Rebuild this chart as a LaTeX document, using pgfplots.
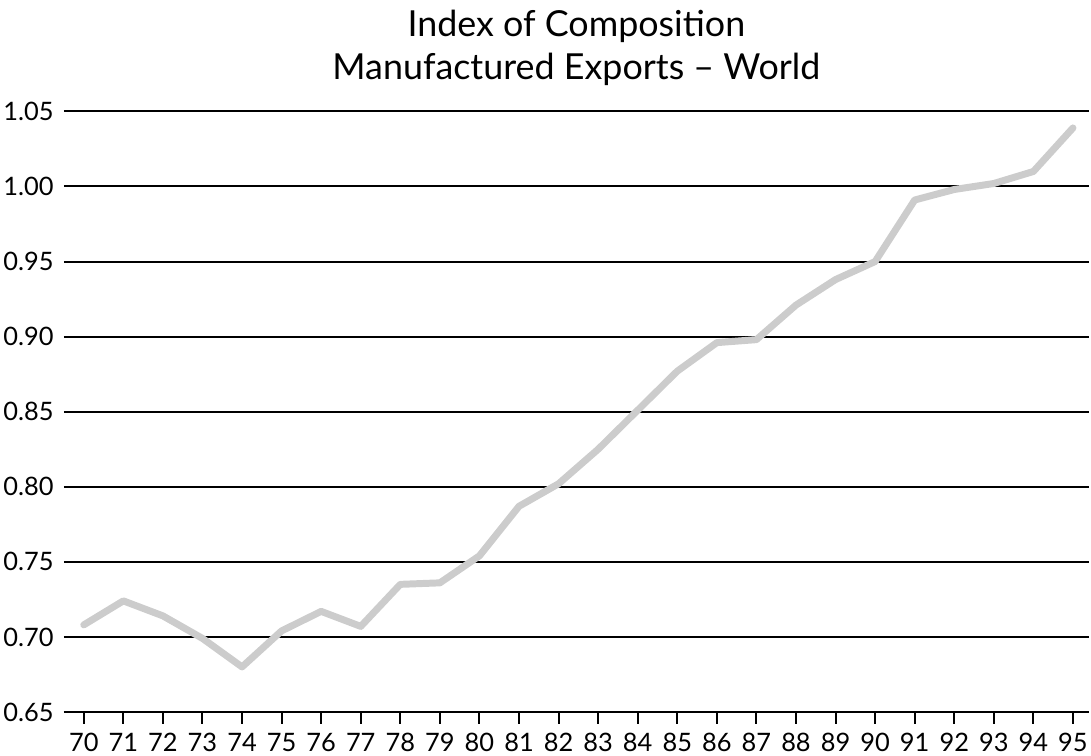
\documentclass[border=0pt]{standalone}
\usepackage{fontspec}
\setmainfont{Lato}
\usepackage{pgfplots}
\pgfplotsset{compat=1.18}
\begin{document}
\begin{tikzpicture}
\begin{axis}[
  scale only axis,
  width=1029pt, height=603pt,
  xmin=69.5, xmax=95.4,
  ymin=0.65, ymax=1.05,
  ytick={0.65,0.70,...,1.06},
  xtick={70,...,95},
  axis x line*=bottom,
  axis y line*=left,
  y axis line style={draw=none},
  x axis line style={line width=2pt, -},
  ymajorgrids,
  grid style={black, line width=2pt},
  xtick pos=bottom,
  ytick pos=left,
  tick align=outside,
  major tick length=12pt,
  xtick style={black, line width=2pt},
  ytick style={draw=none},
  yticklabel style={font=\fontsize{25.5}{30}\selectfont},
  xticklabel style={font=\fontsize{25.5}{30}\selectfont},
  yticklabel={\pgfmathprintnumber[fixed,fixed zerofill,precision=2,assume math mode=true]{\tick}},
  xticklabel={\pgfmathprintnumber[assume math mode=true]{\tick}},
  y tick label style={xshift=5pt},
  x tick label style={yshift=-6pt},
  title={Index of Composition\\Manufactured Exports – World},
  title style={align=center, font=\fontsize{36}{43}\selectfont, yshift=10pt, inner sep=10pt},
  clip=false,
]
\addplot[color={rgb,255:red,204;green,204;blue,204}, line width=7pt, line join=round, line cap=round] coordinates {
(70,0.708) (71,0.724) (72,0.714) (73,0.699) (74,0.680) (75,0.704) (76,0.717) (77,0.707)
(78,0.735) (79,0.736) (80,0.754) (81,0.787) (82,0.802) (83,0.825) (84,0.851) (85,0.877)
(86,0.896) (87,0.898) (88,0.921) (89,0.938) (90,0.950) (91,0.991) (92,0.998) (93,1.002)
(94,1.010) (95,1.039)
};
\end{axis}
\end{tikzpicture}
\end{document}
